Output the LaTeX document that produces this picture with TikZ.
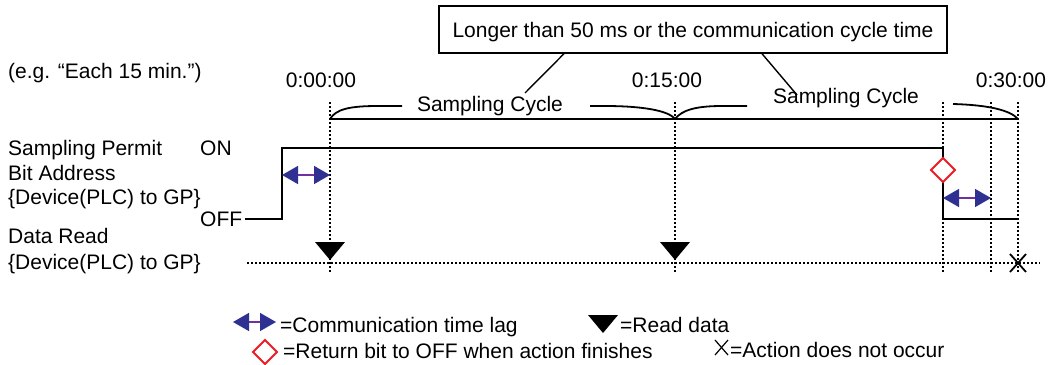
\documentclass[tikz,border=0pt]{standalone}
\usepackage{fontspec}
\setmainfont{Liberation Sans}
\usetikzlibrary{arrows.meta,positioning}
\definecolor{lagblue}{RGB}{46,49,146}
\definecolor{lagpurple}{RGB}{112,48,160}
\definecolor{markred}{RGB}{237,28,36}

\begin{document}
\begin{tikzpicture}[
  x=1pt, y=-1pt,
  every node/.style={font=\fontsize{21}{24.5}\selectfont, inner sep=0pt},
  txt/.style={anchor=base west},
  ctr/.style={anchor=base},
  sig/.style={line width=2pt},
  grid/.style={line width=1.5pt, dash pattern=on 1.5pt off 2.5pt},
  brc/.style={line width=1.8pt},
  lead/.style={line width=1.4pt},
  lag/.style={lagpurple, line width=1.5pt, <->, >={Triangle[length=16pt,width=18pt,color=lagblue]}},
  readmark/.pic={\fill (-15,-18) -- (15,-18) -- (0,0) -- cycle;},
  offmark/.pic={\draw[markred, line width=2pt, fill=white] (-12,0) -- (0,-12) -- (12,0) -- (0,12) -- cycle;},
  nomark/.pic={\draw[line width=1.8pt] (-8,-9) -- (8,9) (-8,9) -- (8,-9);}
]
\useasboundingbox (0,0) rectangle (1056,364);

\foreach \x in {330,675,943,991,1018}
  \draw[grid] (\x,102) -- (\x,272);

\node[txt] (eg) at (8,78) {(e.g. “Each 15 min.”)};
\node[ctr] (t0) at (321,87) {0:00:00};
\node[ctr] (t15) at (667,87) {0:15:00};
\node[ctr] (t30) at (1011,87) {0:30:00};

\node[draw, line width=1.4pt, minimum width=508pt, minimum height=47pt, text height=15pt, text depth=0pt] (note) at (693,29.5) {Longer than 50 ms or the communication cycle time};

\node[ctr] (cyc1) at (490,111) {Sampling Cycle};
\node[ctr] (cyc2) at (846,103) {Sampling Cycle};
\draw[brc] (330,119) .. controls (336,109) and (350,106) .. (378,106) -- (402,106);
\draw[brc] (590,106) -- (605,106) .. controls (640,106) and (668,110) .. (675,119);
\draw[brc] (675,119) .. controls (682,110) and (696,106) .. (722,106) -- (747,106);
\draw[brc] (953,104) .. controls (988,105) and (1010,110) .. (1018,119);
\coordinate (p1) at (525,93);
\coordinate (p2) at (797,95);
\draw[lead] ([xshift=-129pt]note.south) -- (p1);
\draw[lead] ([xshift=69pt]note.south) -- (p2);
\draw[sig] (330,119) -- (1018,119);

\node[txt] (sp1) at (8,155) {Sampling Permit};
\node[txt] (sp2) at (8,180) {Bit Address};
\node[txt] (sp3) at (8,204) {\{Device(PLC) to GP\}};
\node[txt] (on) at (200,155) {ON};
\node[txt] (off) at (200,226) {OFF};
\node[txt] (dr1) at (8,243) {Data Read};
\node[txt] (dr2) at (8,269) {\{Device(PLC) to GP\}};

\draw[sig] ([xshift=3pt]off.east) -| (282,148) -- (943,148) -- (943,219) -- (1018,219);
\draw[grid] (247,263) -- (1040,263);

\pic at (330,260) {readmark};
\pic at (675,260) {readmark};
\pic at (943,170) {offmark};
\pic at (1018,263) {nomark};
\draw[lag] (282,175) -- (330,175);
\draw[lag] (943,198) -- (991,198);

\draw[lag] (233,322) -- (276,322);
\node[txt] (lg1) at (280,332) {=Communication time lag};
\pic at (603,333) {readmark};
\node[txt] (lg2) at (620,332) {=Read data};
\pic at (265,352) {offmark};
\node[txt] (lg3) at (283,358) {=Return bit to OFF when action finishes};
\draw[line width=1.2pt] (715,340) -- (728,355) (715,355) -- (728,340);
\node[txt] (lg4) at (730,357) {=Action does not occur};
\end{tikzpicture}
\end{document}
